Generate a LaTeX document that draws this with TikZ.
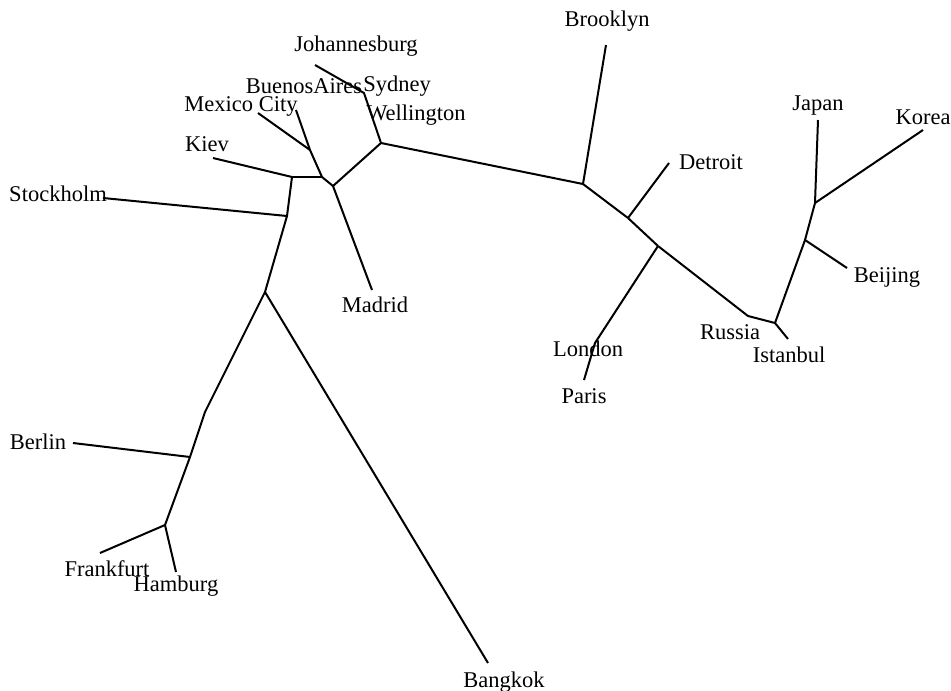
\documentclass[tikz,border=0pt]{standalone}
\usepackage{fontspec}
\setmainfont{Liberation Serif}
\begin{document}
\begin{tikzpicture}[x=1pt,y=-1pt,
  edge/.style={line width=2pt,black},
  lbl/.style={inner sep=0pt,font=\fontsize{22.5}{24}\selectfont}]
\useasboundingbox (0,0) rectangle (951,691);
% internal nodes
\coordinate (A) at (381,143);
\coordinate (B) at (333,186);
\coordinate (C) at (322,177);
\coordinate (D) at (310,150);
\coordinate (E) at (292,177);
\coordinate (F) at (287,216);
\coordinate (G) at (265,292);
\coordinate (G2) at (205,412);
\coordinate (H) at (190,457);
\coordinate (Hf) at (165,525);
\coordinate (I) at (583,184);
\coordinate (J) at (628,218);
\coordinate (K) at (658,246);
\coordinate (L) at (775,323);
\coordinate (M) at (805,240);
\coordinate (N) at (815,203);
\coordinate (S) at (364,93);
\coordinate (R) at (748,316);
\coordinate (Lo) at (595,343);
% leaf ends
\coordinate (jo) at (315,65);
\coordinate (ba) at (296,110);
\coordinate (mx) at (258,113);
\coordinate (ki) at (213,158);
\coordinate (st) at (103,198);
\coordinate (md) at (372,290);
\coordinate (bk) at (488,663);
\coordinate (be) at (73,443);
\coordinate (fr) at (100,553);
\coordinate (hb) at (176,572);
\coordinate (br) at (606,45);
\coordinate (de) at (669,163);
\coordinate (pa) at (584,380);
\coordinate (is) at (788,339);
\coordinate (bj) at (847,268);
\coordinate (jp) at (818,120);
\coordinate (ko) at (923,130);
% edges
\draw[edge] (jo) -- (S) -- (A);
\draw[edge] (A) -- (I);
\draw[edge] (A) -- (B);
\draw[edge] (B) -- (md);
\draw[edge] (B) -- (C);
\draw[edge] (C) -- (D);
\draw[edge] (D) -- (mx);
\draw[edge] (D) -- (ba);
\draw[edge] (C) -- (E);
\draw[edge] (E) -- (ki);
\draw[edge] (E) -- (F);
\draw[edge] (F) -- (st);
\draw[edge] (F) -- (G);
\draw[edge] (G) -- (bk);
\draw[edge] (G) -- (G2) -- (H);
\draw[edge] (H) -- (be);
\draw[edge] (H) -- (Hf);
\draw[edge] (Hf) -- (fr);
\draw[edge] (Hf) -- (hb);
\draw[edge] (I) -- (br);
\draw[edge] (I) -- (J);
\draw[edge] (J) -- (de);
\draw[edge] (J) -- (K);
\draw[edge] (K) -- (Lo) -- (pa);
\draw[edge] (K) -- (R) -- (L);
\draw[edge] (L) -- (is);
\draw[edge] (L) -- (M);
\draw[edge] (M) -- (bj);
\draw[edge] (M) -- (N);
\draw[edge] (N) -- (jp);
\draw[edge] (N) -- (ko);
% labels
\node[lbl] (tJo) at (356,46) {Johannesburg};
\node[lbl] (tBa) at (304,86) {BuenosAires};
\node[lbl] (tSy) at (397,86) {Sydney};
\node[lbl] (tMx) at (241,106) {Mexico City};
\node[lbl] (tWe) at (416,115) {Wellington};
\node[lbl] (tKi) at (207,144) {Kiev};
\node[lbl] (tSt) at (58,194) {Stockholm};
\node[lbl] (tBr) at (607,21) {Brooklyn};
\node[lbl] (tDe) at (711,162) {Detroit};
\node[lbl] (tJp) at (818,106) {Japan};
\node[lbl] (tKo) at (923,117) {Korea};
\node[lbl] (tBj) at (887,277) {Beijing};
\node[lbl] (tRu) at (730,332) {Russia};
\node[lbl] (tIs) at (789,355) {Istanbul};
\node[lbl] (tLo) at (588,349) {London};
\node[lbl] (tPa) at (584,396) {Paris};
\node[lbl] (tMd) at (375,305) {Madrid};
\node[lbl] (tBe) at (38,442) {Berlin};
\node[lbl] (tFr) at (107,569) {Frankfurt};
\node[lbl] (tHb) at (176,586) {Hamburg};
\node[lbl] (tBk) at (504,682) {Bangkok};
\end{tikzpicture}
\end{document}
